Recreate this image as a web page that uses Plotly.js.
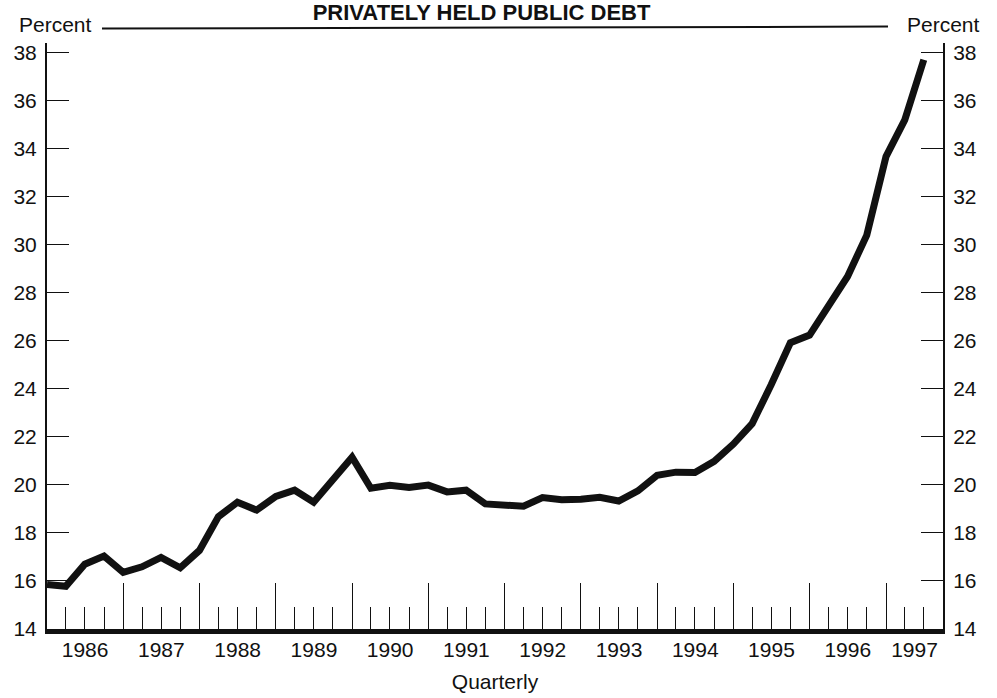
<!DOCTYPE html>
<html>
<head>
<meta charset="utf-8">
<script src="https://cdn.plot.ly/plotly-3.0.1.min.js"></script>
<style>
  html, body { margin: 0; padding: 0; background: #fff; }
  #chart { width: 997px; height: 698px; }
</style>
</head>
<body>
<div id="chart"></div>
<script>
// Quarter start dates, 1986 Q1 through 1997 Q3
const quarters = [
  '1986-01-01','1986-04-01','1986-07-01','1986-10-01',
  '1987-01-01','1987-04-01','1987-07-01','1987-10-01',
  '1988-01-01','1988-04-01','1988-07-01','1988-10-01',
  '1989-01-01','1989-04-01','1989-07-01','1989-10-01',
  '1990-01-01','1990-04-01','1990-07-01','1990-10-01',
  '1991-01-01','1991-04-01','1991-07-01','1991-10-01',
  '1992-01-01','1992-04-01','1992-07-01','1992-10-01',
  '1993-01-01','1993-04-01','1993-07-01','1993-10-01',
  '1994-01-01','1994-04-01','1994-07-01','1994-10-01',
  '1995-01-01','1995-04-01','1995-07-01','1995-10-01',
  '1996-01-01','1996-04-01','1996-07-01','1996-10-01',
  '1997-01-01','1997-04-01','1997-07-01'
];
// Share (percent)
const sharePct = [
  15.85, 15.78, 16.70, 17.04,
  16.36, 16.59, 16.98, 16.55,
  17.27, 18.68, 19.28, 18.95,
  19.52, 19.78, 19.28, 20.18,
  21.15, 19.86, 19.98, 19.89,
  19.99, 19.71, 19.78, 19.21,
  19.17, 19.11, 19.47, 19.38,
  19.40, 19.48, 19.33, 19.75,
  20.40, 20.53, 20.52, 20.98,
  21.70, 22.55, 24.17, 25.92,
  26.24, 27.41, 28.68, 30.40,
  33.67, 35.20, 37.70
];
const years = [1986, 1987, 1988, 1989, 1990, 1991, 1992, 1993, 1994, 1995, 1996, 1997];
const yTicks = [14, 16, 18, 20, 22, 24, 26, 28, 30, 32, 34, 36, 38];
const xRange = ['1986-01-01', '1997-10-01'];
const yRange = [14, 38.4];
const titleText = 'PRIVATELY HELD PUBLIC DEBT';
const unitLabel = 'Percent';
const xTitle = 'Quarterly';

const FONT = 'Liberation Sans, Arial, Helvetica, sans-serif';
const INK = '#111';

// Year labels sit in the middle of the visible part of each year
const t0 = Date.parse(xRange[0]), t1 = Date.parse(xRange[1]);
const yearMid = years.map(yr => {
  const a = Math.max(Date.parse(yr + '-01-01'), t0);
  const b = Math.min(Date.parse((yr + 1) + '-01-01'), t1);
  return new Date((a + b) / 2).toISOString().slice(0, 19).replace('T', ' ');
});

const traces = [
  {
    x: quarters, y: sharePct, type: 'scatter', mode: 'lines',
    line: { color: INK, width: 7 },
    hoverinfo: 'x+y', showlegend: false
  },
  {
    x: quarters, y: sharePct, type: 'scatter', mode: 'lines',
    xaxis: 'x2', line: { color: 'rgba(0,0,0,0)', width: 0 },
    hoverinfo: 'skip', showlegend: false
  },
  {
    x: quarters, y: sharePct, type: 'scatter', mode: 'lines',
    yaxis: 'y2', line: { color: 'rgba(0,0,0,0)', width: 0 },
    hoverinfo: 'skip', showlegend: false
  }
];

const yCommon = {
  range: yRange, tickvals: yTicks, ticks: 'inside', ticklen: 22,
  tickwidth: 1, tickcolor: INK, showline: true, linecolor: INK,
  linewidth: 2, showgrid: false, zeroline: false,
  tickfont: { family: FONT, size: 21, color: INK },
  ticklabelstandoff: 4, fixedrange: true
};

const layout = {
  width: 997, height: 698,
  margin: { l: 47, r: 54, t: 43, b: 69 },
  paper_bgcolor: '#fff', plot_bgcolor: '#fff',
  showlegend: false,
  title: {
    text: '<b>' + titleText + '</b>',
    font: { family: FONT, size: 22, color: INK },
    xref: 'paper', x: 0.485, xanchor: 'center',
    yref: 'container', y: 1 - 5 / 698, yanchor: 'top'
  },
  xaxis: {
    type: 'date', range: xRange,
    tickmode: 'linear', tick0: '1986-01-01', dtick: 'M12',
    showticklabels: false,
    ticks: 'inside', ticklen: 46, tickwidth: 1, tickcolor: INK,
    minor: { dtick: 'M3', tick0: '1986-01-01', ticks: 'inside', ticklen: 22, tickwidth: 1, tickcolor: INK, showgrid: false },
    showline: true, linecolor: INK, linewidth: 5,
    showgrid: false, zeroline: false,
    fixedrange: true
  },
  xaxis2: {
    type: 'date', range: xRange, overlaying: 'x', anchor: 'y', side: 'bottom',
    tickmode: 'array', tickvals: yearMid, ticktext: years.map(String),
    ticks: '', showline: false, showgrid: false, zeroline: false,
    tickfont: { family: FONT, size: 21, color: INK },
    ticklabelstandoff: 6,
    title: { text: xTitle, font: { family: FONT, size: 21, color: INK }, standoff: 14 },
    fixedrange: true
  },
  yaxis: Object.assign({}, yCommon, { side: 'left' }),
  yaxis2: Object.assign({}, yCommon, { side: 'right', overlaying: 'y', anchor: 'x' }),
  annotations: [
    {
      text: unitLabel, xref: 'paper', yref: 'paper',
      x: 8 / 896, y: (629 - 25) / 586, xanchor: 'center', yanchor: 'middle',
      showarrow: false, font: { family: FONT, size: 21, color: INK }
    },
    {
      text: unitLabel, xref: 'paper', yref: 'paper',
      x: 1.0, y: (629 - 25) / 586, xanchor: 'center', yanchor: 'middle',
      showarrow: false, font: { family: FONT, size: 21, color: INK }
    }
  ],
  shapes: [
    {
      type: 'line', xref: 'paper', yref: 'paper',
      x0: 55 / 896, x1: 841 / 896,
      y0: (629 - 28.5) / 586, y1: (629 - 26.6) / 586,
      line: { color: INK, width: 2 }
    }
  ]
};

Plotly.newPlot('chart', traces, layout, { displayModeBar: false, staticPlot: true });
</script>
</body>
</html>
